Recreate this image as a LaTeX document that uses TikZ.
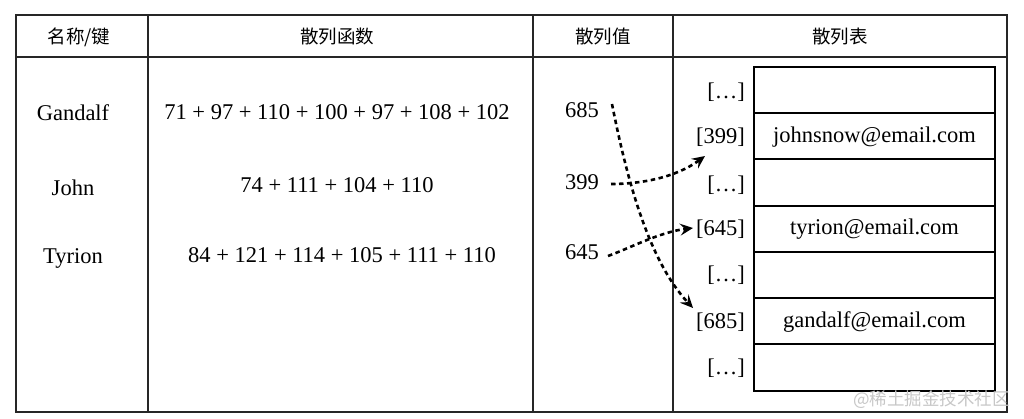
\documentclass[tikz,border=0pt]{standalone}
\usepackage{fontspec}
\setmainfont{Liberation Serif}
\newfontfamily\cjk{Noto Sans CJK SC}
\usetikzlibrary{arrows.meta}
\begin{document}
\begin{tikzpicture}[x=1pt,y=-1pt,
  frame/.style={line width=1.4pt,draw=black!85},
  cell/.style={line width=2pt,draw=black},
  hdr/.style={font=\cjk\fontsize{18.5}{22}\selectfont,anchor=center},
  txt/.style={font=\fontsize{22.5}{26}\selectfont,anchor=center,inner sep=0pt},
  idx/.style={font=\fontsize{22.5}{26}\selectfont,anchor=east,inner sep=0pt},
  link/.style={line width=2.6pt,dash pattern=on 4.5pt off 3.5pt,-{Stealth[length=13pt,width=12pt,inset=5pt]}}]
\useasboundingbox (0,0) rectangle (1024,418);
% table frame
\draw[frame] (16,15) rectangle (1007,412);
\draw[frame] (16,57) -- (1007,57);
\draw[frame] (148,15) -- (148,412);
\draw[frame] (533,15) -- (533,412);
\draw[frame] (673,15) -- (673,412);
% headers
\node[hdr] (h1) at (79,37) {名称/键};
\node[hdr] (h2) at (337,37) {散列函数};
\node[hdr] (h3) at (603,37) {散列值};
\node[hdr] (h4) at (840,37) {散列表};
% names
\node[txt] (n1) at (73,113) {Gandalf};
\node[txt] (n2) at (73,188) {John};
\node[txt] (n3) at (73,258) {Tyrion};
% formulas
\node[txt] (f1) at (337,112) {71 + 97 + 110 + 100 + 97 + 108 + 102};
\node[txt] (f2) at (337,185) {74 + 111 + 104 + 110};
\node[txt] (f3) at (342,255) {84 + 121 + 114 + 105 + 111 + 110};
% values
\node[txt] (v685) at (582,110) {685};
\node[txt] (v399) at (582,182) {399};
\node[txt] (v645) at (582,252) {645};
% hash table rows
\foreach \i/\ya/\yb in {1/67/113,2/113/159,3/159/206,4/206/252,5/252/298,6/298/344,7/344/391}{
  \draw[cell] (754,\ya) rectangle (995,\yb);
  \node[inner sep=0pt] (r\i) at (874.5,{(\ya+\yb)/2}) {};
}
\node[txt] (e2) at (874.5,137) {johnsnow@email.com};
\node[txt] (e4) at (874.5,229) {tyrion@email.com};
\node[txt] (e6) at (874.5,322) {gandalf@email.com};
% index labels
\node[idx] (i1) at (745,92) {[…]};
\node[idx] (i399) at (745,137) {[399]};
\node[idx] (i3) at (745,185) {[…]};
\node[idx] (i645) at (745,229) {[645]};
\node[idx] (i5) at (745,275) {[…]};
\node[idx] (i685) at (745,322) {[685]};
\node[idx] (i7) at (745,368) {[…]};
% connector endpoints
\coordinate (s685) at (612,104);
\coordinate (s399) at (611,184);
\coordinate (s645) at (608,256);
\coordinate (t685) at (693,308);
\coordinate (t399) at (705,156);
\coordinate (t645) at (693,228);
\draw[link] (s685) .. controls (628,185) and (650,262) .. (t685);
\draw[link] (s399) .. controls (640,184) and (675,178) .. (t399);
\draw[link] (s645) .. controls (630,248) and (660,232) .. (t645);
% watermark
\node[font=\cjk\fontsize{17.5}{20}\selectfont,text=black!22,anchor=east,inner sep=0pt] (wm) at (1010,400) {@稀土掘金技术社区};
\end{tikzpicture}
\end{document}
